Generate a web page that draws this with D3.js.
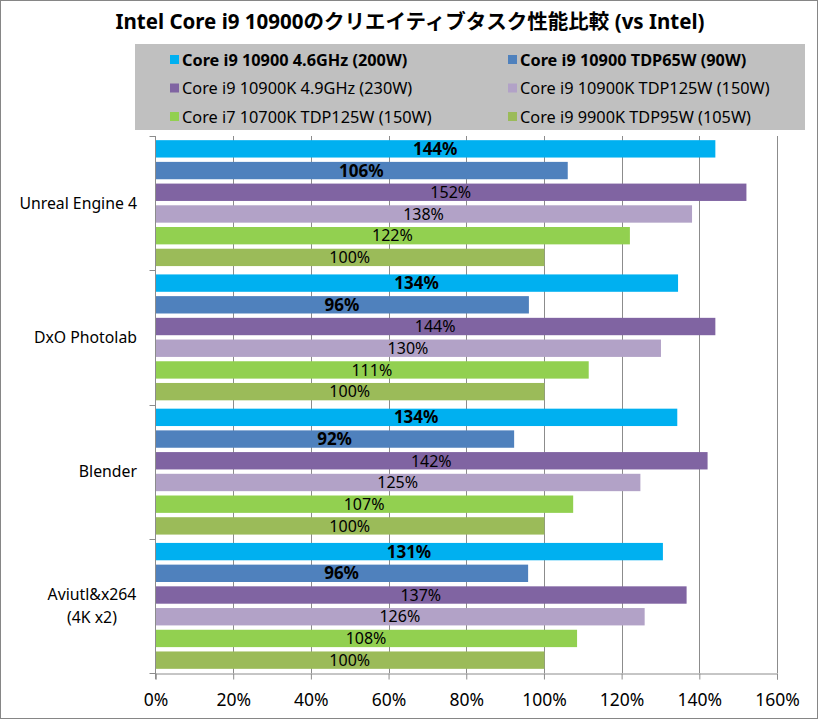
<!DOCTYPE html>
<html>
<head>
<meta charset="utf-8">
<script src="https://cdn.jsdelivr.net/npm/d3@7"></script>
<style>
  body { margin: 0; background: #fff; }
  svg { display: block; font-family: "Noto Sans", "Noto Sans CJK JP", sans-serif; }
</style>
</head>
<body>
<div id="chart"></div>
<script>
// chart data
const title = "Intel Core i9 10900のクリエイティブタスク性能比較 (vs Intel)";
const categories = ["Unreal Engine 4", "DxO Photolab", "Blender", "Aviutl&x264\n(4K x2)"];
const seriesNames = [
  "Core i9 10900 4.6GHz (200W)",
  "Core i9 10900 TDP65W (90W)",
  "Core i9 10900K 4.9GHz (230W)",
  "Core i9 10900K TDP125W (150W)",
  "Core i7 10700K TDP125W (150W)",
  "Core i9 9900K TDP95W (105W)"
];
const seriesColors = ["#00b0f0", "#4f81bd", "#8064a2", "#b2a2c7", "#92d050", "#9bbb59"];
const seriesBold = [true, true, false, false, false, false];
// values per series, one per category
const s1 = [144, 134.4, 134.2, 130.5];
const s2 = [106, 96, 92.2, 95.8];
const s3 = [152, 144, 142, 136.6];
const s4 = [138, 130, 124.7, 125.8];
const s5 = [122, 111.4, 107.4, 108.4];
const s6 = [100, 100, 100, 100];
const seriesValues = [s1, s2, s3, s4, s5, s6];
const xTicks = [0, 20, 40, 60, 80, 100, 120, 140, 160];

const width = 818, height = 719;
const plotLeft = 155.5, plotRight = 777, plotTop = 136, plotBottom = 673;

const svg = d3.select("#chart").append("svg")
  .attr("width", width)
  .attr("height", height);

// outer border
svg.append("rect")
  .attr("x", 0.5).attr("y", 0.5)
  .attr("width", width - 1).attr("height", height - 1)
  .attr("fill", "#fff").attr("stroke", "#868686");

svg.append("text")
  .attr("x", 410).attr("y", 29)
  .attr("text-anchor", "middle")
  .attr("font-size", 20.5).attr("font-weight", "bold")
  .text(title);

// legend
svg.append("rect")
  .attr("x", 135).attr("y", 44)
  .attr("width", 670).attr("height", 86)
  .attr("fill", "#c0c0c0");

const leg = svg.append("g").selectAll("g")
  .data(seriesNames)
  .join("g")
  .attr("transform", (d, i) => `translate(${i % 2 ? 508 : 170},${60 + Math.floor(i / 2) * 28.5})`);

leg.append("rect")
  .attr("x", 0).attr("y", -5)
  .attr("width", 9).attr("height", 9)
  .attr("fill", (d, i) => seriesColors[i]);

leg.append("text")
  .attr("x", 12).attr("y", 0)
  .attr("dy", "0.35em")
  .attr("font-size", 16.3)
  .attr("font-weight", (d, i) => seriesBold[i] ? "bold" : "normal")
  .attr("fill", "#000")
  .text(d => d);

// scales
const x = d3.scaleLinear().domain([0, 160]).range([plotLeft, plotRight]);
const y0 = d3.scaleBand().domain(categories).range([plotTop, plotBottom]).paddingInner(0).paddingOuter(0);
const y1 = d3.scaleBand().domain(d3.range(seriesNames.length))
  .range([2, y0.bandwidth() - 2]).paddingInner(0.2).paddingOuter(0.1);

// gridlines
svg.append("g")
  .selectAll("line")
  .data(xTicks.slice(1))
  .join("line")
  .attr("x1", d => Math.round(x(d)) + 0.5).attr("x2", d => Math.round(x(d)) + 0.5)
  .attr("y1", plotTop).attr("y2", plotBottom)
  .attr("stroke", "#8c8c8c");

// x axis
const xAxis = svg.append("g")
  .attr("transform", `translate(0,${plotBottom + 0.5})`)
  .call(d3.axisBottom(x).tickValues(xTicks).tickFormat(d => d + "%").tickSize(6).tickPadding(14));
xAxis.select(".domain").attr("stroke", "#8c8c8c");
xAxis.selectAll(".tick line").attr("stroke", "#8c8c8c");
xAxis.selectAll("text").attr("font-size", 17.5).attr("font-family", "Noto Sans, sans-serif").attr("fill", "#000");

// y axis line and category ticks
svg.append("line")
  .attr("x1", plotLeft).attr("x2", plotLeft)
  .attr("y1", plotTop).attr("y2", plotBottom + 6)
  .attr("stroke", "#8c8c8c");
svg.append("g")
  .selectAll("line")
  .data(d3.range(categories.length + 1))
  .join("line")
  .attr("x1", plotLeft - 6).attr("x2", plotLeft)
  .attr("y1", i => Math.round(plotTop + i * y0.bandwidth()) + 0.5)
  .attr("y2", i => Math.round(plotTop + i * y0.bandwidth()) + 0.5)
  .attr("stroke", "#8c8c8c");

// category labels
const catLab = svg.append("g").selectAll("text")
  .data(categories)
  .join("text")
  .attr("font-size", 15.8)
  .attr("fill", "#000")
  .attr("y", d => y0(d) + y0.bandwidth() / 2);
catLab.each(function(d) {
  const lines = d.split("\n");
  const t = d3.select(this);
  lines.forEach((ln, k) => {
    t.append("tspan")
      .attr("x", lines.length > 1 ? 92 : 137)
      .attr("text-anchor", lines.length > 1 ? "middle" : "end")
      .attr("dy", k === 0 ? `${0.35 - (lines.length - 1) * 0.72}em` : "1.45em")
      .text(ln);
  });
});

// bars
const groups = svg.append("g").selectAll("g")
  .data(categories)
  .join("g")
  .attr("transform", d => `translate(0,${y0(d)})`);

groups.selectAll("rect")
  .data((d, ci) => seriesValues.map((vals, si) => ({ si, v: vals[ci] })))
  .join("rect")
  .attr("x", x(0) + 0.5)
  .attr("y", d => y1(d.si))
  .attr("width", d => x(d.v) - x(0))
  .attr("height", y1.bandwidth())
  .attr("fill", d => seriesColors[d.si]);

groups.selectAll("text")
  .data((d, ci) => seriesValues.map((vals, si) => ({ si, v: vals[ci] })))
  .join("text")
  .attr("x", d => (x(0) + x(d.v)) / 2)
  .attr("y", d => y1(d.si) + y1.bandwidth() / 2)
  .attr("dy", "0.36em")
  .attr("text-anchor", "middle")
  .attr("font-size", d => seriesBold[d.si] ? 17 : 16)
  .attr("font-weight", d => seriesBold[d.si] ? "bold" : "normal")
  .attr("fill", "#000")
  .text(d => Math.round(d.v) + "%");
</script>
</body>
</html>
